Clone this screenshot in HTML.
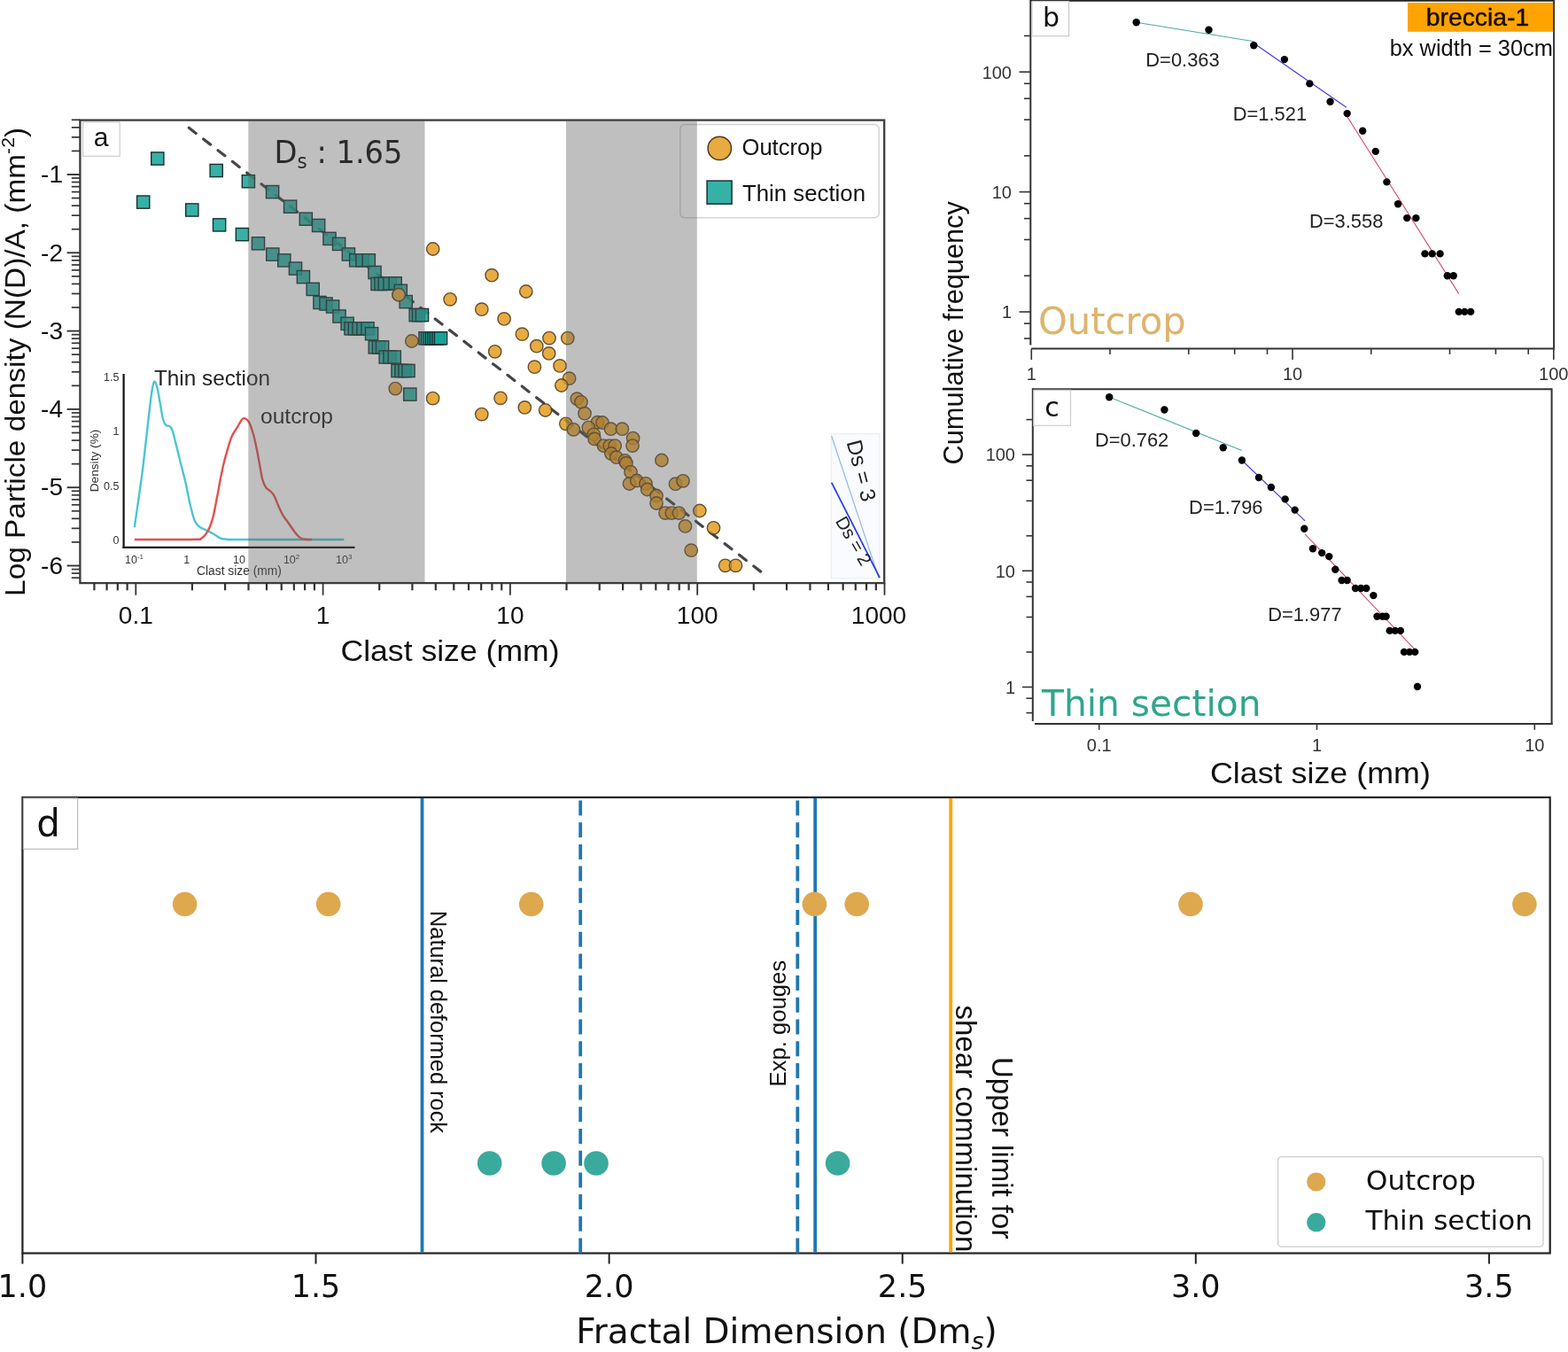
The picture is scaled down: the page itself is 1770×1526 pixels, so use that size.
<!DOCTYPE html>
<html><head><meta charset="utf-8"><title>Fractal dimension figure</title>
<style>html,body{margin:0;padding:0;background:#fff;} svg{display:block;}</style></head>
<body>
<svg width="1770" height="1526" viewBox="0 0 1770 1526">
<rect width="1770" height="1526" fill="#fff"/>
<g font-family="'Liberation Sans', Arial, sans-serif">
<line x1="139.6" y1="422" x2="139.6" y2="619" stroke="#111" stroke-width="2.2"/>
<line x1="138.5" y1="617.9" x2="400.5" y2="617.9" stroke="#111" stroke-width="2.2"/>
<text x="134.5" y="429.55" font-size="12.5" text-anchor="end" fill="#333">1.5</text>
<text x="134.5" y="491.1" font-size="12.5" text-anchor="end" fill="#333">1</text>
<text x="134.5" y="552.65" font-size="12.5" text-anchor="end" fill="#333">0.5</text>
<text x="134.5" y="614.2" font-size="12.5" text-anchor="end" fill="#333">0</text>
<text x="151.5" y="635.5" font-size="12.5" text-anchor="middle" fill="#333">10<tspan font-size="8" dy="-5">-1</tspan></text>
<text x="210.7" y="635.5" font-size="12.5" text-anchor="middle" fill="#333">1</text>
<text x="269.9" y="635.5" font-size="12.5" text-anchor="middle" fill="#333">10</text>
<text x="329.1" y="635.5" font-size="12.5" text-anchor="middle" fill="#333">10<tspan font-size="8" dy="-5">2</tspan></text>
<text x="388.3" y="635.5" font-size="12.5" text-anchor="middle" fill="#333">10<tspan font-size="8" dy="-5">3</tspan></text>
<text x="270" y="648.5" font-size="13.8" text-anchor="middle" fill="#333">Clast size (mm)</text>
<text transform="translate(110.5,520) rotate(-90)" font-size="13.7" text-anchor="middle" fill="#333">Density (%)</text>
<path d="M151.8,595.2 C152.67,589.2 155.47,570.02 157,559.2 C158.53,548.38 159.68,540.78 161,530.3 C162.32,519.82 163.7,506.78 164.9,496.3 C166.1,485.82 167.1,476.58 168.2,467.4 C169.3,458.22 170.52,447.32 171.5,441.2 C172.48,435.08 173.12,431.35 174.1,430.7 C175.08,430.05 176.32,433.37 177.4,437.3 C178.48,441.23 179.52,448.4 180.6,454.3 C181.68,460.2 182.8,468.43 183.9,472.7 C185,476.97 185.88,478.48 187.2,479.9 C188.52,481.32 190.5,480 191.8,481.2 C193.1,482.4 193.8,483.5 195,487.1 C196.2,490.7 197.47,496.68 199,502.8 C200.53,508.92 202.45,516.82 204.2,523.8 C205.95,530.78 207.75,537.05 209.5,544.7 C211.25,552.35 212.97,562.48 214.7,569.7 C216.43,576.92 218.15,583.85 219.9,588 C221.65,592.15 223.13,592.9 225.2,594.6 C227.27,596.3 229.77,596.93 232.3,598.2 C234.83,599.47 237.7,600.68 240.4,602.2 C243.1,603.72 245.62,606.18 248.5,607.3 C251.38,608.42 254.12,608.62 257.7,608.9 C261.28,609.18 248.23,608.98 270,609 C291.77,609.02 368.58,609 388.3,609" fill="none" stroke="#4cc4d2" stroke-width="2.4" stroke-linejoin="round"/>
<path d="M151.8,609 C159.83,609 187.97,609.03 200,609 C212.03,608.97 219.63,608.92 224,608.8 C228.37,608.68 224.98,609.05 226.2,608.3 C227.42,607.55 229.62,606.33 231.3,604.3 C232.98,602.27 234.78,599.48 236.3,596.1 C237.82,592.72 239.22,588.4 240.4,584 C241.58,579.6 242.38,574.78 243.4,569.7 C244.42,564.62 245.48,558.92 246.5,553.5 C247.52,548.08 248.48,542.28 249.5,537.2 C250.52,532.12 251.4,527.9 252.6,523 C253.8,518.1 255.18,512.88 256.7,507.8 C258.22,502.72 259.85,496.73 261.7,492.5 C263.55,488.27 265.93,485.53 267.8,482.4 C269.67,479.27 271.53,475.4 272.9,473.7 C274.27,472 274.65,471.77 276,472.2 C277.35,472.63 279.32,473.25 281,476.3 C282.68,479.35 284.57,485.08 286.1,490.5 C287.63,495.92 289.02,503.05 290.2,508.8 C291.38,514.55 292.18,519.58 293.2,525 C294.22,530.42 295.12,537.07 296.3,541.3 C297.48,545.53 298.78,548.2 300.3,550.4 C301.82,552.6 303.87,552.97 305.4,554.5 C306.93,556.03 307.97,556.72 309.5,559.6 C311.03,562.48 312.92,568.08 314.6,571.8 C316.28,575.52 317.92,579.03 319.6,581.9 C321.28,584.77 322.67,586.12 324.7,589 C326.73,591.88 329.77,596.48 331.8,599.2 C333.83,601.92 335.2,603.78 336.9,605.3 C338.6,606.82 340.15,607.68 342,608.3 C343.85,608.92 346.33,608.88 348,609 C349.67,609.12 351.33,609 352,609" fill="none" stroke="#e5504c" stroke-width="2.4" stroke-linejoin="round"/>
<text x="174" y="434.5" font-size="24.3" fill="#222">Thin section</text>
<text x="294" y="477.5" font-size="24.6" fill="#222">outcrop</text>
<rect x="93.6" y="137.9" width="41.6" height="38.4" fill="#fff" stroke="#ccc" stroke-width="1.2"/><text x="114" y="165" font-size="30" text-anchor="middle" fill="#111">a</text>
<rect x="767.8" y="140.5" width="224.5" height="105.3" rx="5" fill="#fff" fill-opacity="0.85" stroke="#d4d4d4" stroke-width="1.5"/>
<circle cx="812.3" cy="167.4" r="13.2" fill="#e8ab41" stroke="#4a3a20" stroke-width="1.5"/>
<rect x="798.1" y="204.1" width="28" height="26.1" fill="#36b1a6" stroke="#18302d" stroke-width="1.5"/>
<text x="837.5" y="175.2" font-size="25" fill="#111" textLength="91" lengthAdjust="spacingAndGlyphs">Outcrop</text>
<text x="838" y="227.4" font-size="25" fill="#111" textLength="139" lengthAdjust="spacingAndGlyphs">Thin section</text>
<line x1="213.3" y1="144.3" x2="858.9" y2="645.3" stroke="#45454a" stroke-width="3.2" stroke-linecap="round" stroke-dasharray="10 10.69"/>
<circle cx="488.7" cy="281" r="7.2" fill="#e29612" fill-opacity="0.8" stroke="#4a3a20" stroke-width="1.4" stroke-opacity="0.85"/>
<circle cx="555.1" cy="310.7" r="7.2" fill="#e29612" fill-opacity="0.8" stroke="#4a3a20" stroke-width="1.4" stroke-opacity="0.85"/>
<circle cx="593.8" cy="329" r="7.2" fill="#e29612" fill-opacity="0.8" stroke="#4a3a20" stroke-width="1.4" stroke-opacity="0.85"/>
<circle cx="508.1" cy="337.8" r="7.2" fill="#e29612" fill-opacity="0.8" stroke="#4a3a20" stroke-width="1.4" stroke-opacity="0.85"/>
<circle cx="543.8" cy="349.2" r="7.2" fill="#e29612" fill-opacity="0.8" stroke="#4a3a20" stroke-width="1.4" stroke-opacity="0.85"/>
<circle cx="569.1" cy="359.9" r="7.2" fill="#e29612" fill-opacity="0.8" stroke="#4a3a20" stroke-width="1.4" stroke-opacity="0.85"/>
<circle cx="589.4" cy="377.2" r="7.2" fill="#e29612" fill-opacity="0.8" stroke="#4a3a20" stroke-width="1.4" stroke-opacity="0.85"/>
<circle cx="620" cy="381.6" r="7.2" fill="#e29612" fill-opacity="0.8" stroke="#4a3a20" stroke-width="1.4" stroke-opacity="0.85"/>
<circle cx="640.8" cy="381.6" r="7.2" fill="#e29612" fill-opacity="0.8" stroke="#4a3a20" stroke-width="1.4" stroke-opacity="0.85"/>
<circle cx="605.8" cy="390.7" r="7.2" fill="#e29612" fill-opacity="0.8" stroke="#4a3a20" stroke-width="1.4" stroke-opacity="0.85"/>
<circle cx="619.7" cy="398.9" r="7.2" fill="#e29612" fill-opacity="0.8" stroke="#4a3a20" stroke-width="1.4" stroke-opacity="0.85"/>
<circle cx="558.7" cy="396.8" r="7.2" fill="#e29612" fill-opacity="0.8" stroke="#4a3a20" stroke-width="1.4" stroke-opacity="0.85"/>
<circle cx="603.4" cy="414.2" r="7.2" fill="#e29612" fill-opacity="0.8" stroke="#4a3a20" stroke-width="1.4" stroke-opacity="0.85"/>
<circle cx="632" cy="412.9" r="7.2" fill="#e29612" fill-opacity="0.8" stroke="#4a3a20" stroke-width="1.4" stroke-opacity="0.85"/>
<circle cx="642.6" cy="427.2" r="7.2" fill="#e29612" fill-opacity="0.8" stroke="#4a3a20" stroke-width="1.4" stroke-opacity="0.85"/>
<circle cx="633.8" cy="435" r="7.2" fill="#e29612" fill-opacity="0.8" stroke="#4a3a20" stroke-width="1.4" stroke-opacity="0.85"/>
<circle cx="450.1" cy="332.7" r="7.2" fill="#e29612" fill-opacity="0.8" stroke="#4a3a20" stroke-width="1.4" stroke-opacity="0.85"/>
<circle cx="464.8" cy="385" r="7.2" fill="#e29612" fill-opacity="0.8" stroke="#4a3a20" stroke-width="1.4" stroke-opacity="0.85"/>
<circle cx="446.3" cy="438.6" r="7.2" fill="#e29612" fill-opacity="0.8" stroke="#4a3a20" stroke-width="1.4" stroke-opacity="0.85"/>
<circle cx="488.6" cy="449.6" r="7.2" fill="#e29612" fill-opacity="0.8" stroke="#4a3a20" stroke-width="1.4" stroke-opacity="0.85"/>
<circle cx="565" cy="449.3" r="7.2" fill="#e29612" fill-opacity="0.8" stroke="#4a3a20" stroke-width="1.4" stroke-opacity="0.85"/>
<circle cx="592.3" cy="459.9" r="7.2" fill="#e29612" fill-opacity="0.8" stroke="#4a3a20" stroke-width="1.4" stroke-opacity="0.85"/>
<circle cx="615.6" cy="463" r="7.2" fill="#e29612" fill-opacity="0.8" stroke="#4a3a20" stroke-width="1.4" stroke-opacity="0.85"/>
<circle cx="543.8" cy="467.6" r="7.2" fill="#e29612" fill-opacity="0.8" stroke="#4a3a20" stroke-width="1.4" stroke-opacity="0.85"/>
<circle cx="651.3" cy="450.2" r="7.2" fill="#e29612" fill-opacity="0.8" stroke="#4a3a20" stroke-width="1.4" stroke-opacity="0.85"/>
<circle cx="656" cy="453.8" r="7.2" fill="#e29612" fill-opacity="0.8" stroke="#4a3a20" stroke-width="1.4" stroke-opacity="0.85"/>
<circle cx="660" cy="466.7" r="7.2" fill="#e29612" fill-opacity="0.8" stroke="#4a3a20" stroke-width="1.4" stroke-opacity="0.85"/>
<circle cx="638.8" cy="478.3" r="7.2" fill="#e29612" fill-opacity="0.8" stroke="#4a3a20" stroke-width="1.4" stroke-opacity="0.85"/>
<circle cx="647.4" cy="484.8" r="7.2" fill="#e29612" fill-opacity="0.8" stroke="#4a3a20" stroke-width="1.4" stroke-opacity="0.85"/>
<circle cx="674.5" cy="476.7" r="7.2" fill="#e29612" fill-opacity="0.8" stroke="#4a3a20" stroke-width="1.4" stroke-opacity="0.85"/>
<circle cx="664.3" cy="482.6" r="7.2" fill="#e29612" fill-opacity="0.8" stroke="#4a3a20" stroke-width="1.4" stroke-opacity="0.85"/>
<circle cx="670.3" cy="490.3" r="7.2" fill="#e29612" fill-opacity="0.8" stroke="#4a3a20" stroke-width="1.4" stroke-opacity="0.85"/>
<circle cx="671.1" cy="495.4" r="7.2" fill="#e29612" fill-opacity="0.8" stroke="#4a3a20" stroke-width="1.4" stroke-opacity="0.85"/>
<circle cx="680" cy="477" r="7.2" fill="#e29612" fill-opacity="0.8" stroke="#4a3a20" stroke-width="1.4" stroke-opacity="0.85"/>
<circle cx="689.5" cy="484.2" r="7.2" fill="#e29612" fill-opacity="0.8" stroke="#4a3a20" stroke-width="1.4" stroke-opacity="0.85"/>
<circle cx="702.4" cy="484.2" r="7.2" fill="#e29612" fill-opacity="0.8" stroke="#4a3a20" stroke-width="1.4" stroke-opacity="0.85"/>
<circle cx="714.6" cy="494.6" r="7.2" fill="#e29612" fill-opacity="0.8" stroke="#4a3a20" stroke-width="1.4" stroke-opacity="0.85"/>
<circle cx="714" cy="503.1" r="7.2" fill="#e29612" fill-opacity="0.8" stroke="#4a3a20" stroke-width="1.4" stroke-opacity="0.85"/>
<circle cx="681.5" cy="503.1" r="7.2" fill="#e29612" fill-opacity="0.8" stroke="#4a3a20" stroke-width="1.4" stroke-opacity="0.85"/>
<circle cx="688.2" cy="503.1" r="7.2" fill="#e29612" fill-opacity="0.8" stroke="#4a3a20" stroke-width="1.4" stroke-opacity="0.85"/>
<circle cx="694.2" cy="503.1" r="7.2" fill="#e29612" fill-opacity="0.8" stroke="#4a3a20" stroke-width="1.4" stroke-opacity="0.85"/>
<circle cx="689.9" cy="512" r="7.2" fill="#e29612" fill-opacity="0.8" stroke="#4a3a20" stroke-width="1.4" stroke-opacity="0.85"/>
<circle cx="695.8" cy="516.2" r="7.2" fill="#e29612" fill-opacity="0.8" stroke="#4a3a20" stroke-width="1.4" stroke-opacity="0.85"/>
<circle cx="705.4" cy="519.8" r="7.2" fill="#e29612" fill-opacity="0.8" stroke="#4a3a20" stroke-width="1.4" stroke-opacity="0.85"/>
<circle cx="706.9" cy="522.7" r="7.2" fill="#e29612" fill-opacity="0.8" stroke="#4a3a20" stroke-width="1.4" stroke-opacity="0.85"/>
<circle cx="712" cy="532.8" r="7.2" fill="#e29612" fill-opacity="0.8" stroke="#4a3a20" stroke-width="1.4" stroke-opacity="0.85"/>
<circle cx="710.5" cy="546" r="7.2" fill="#e29612" fill-opacity="0.8" stroke="#4a3a20" stroke-width="1.4" stroke-opacity="0.85"/>
<circle cx="718.8" cy="542.5" r="7.2" fill="#e29612" fill-opacity="0.8" stroke="#4a3a20" stroke-width="1.4" stroke-opacity="0.85"/>
<circle cx="729" cy="545.8" r="7.2" fill="#e29612" fill-opacity="0.8" stroke="#4a3a20" stroke-width="1.4" stroke-opacity="0.85"/>
<circle cx="730.7" cy="552.5" r="7.2" fill="#e29612" fill-opacity="0.8" stroke="#4a3a20" stroke-width="1.4" stroke-opacity="0.85"/>
<circle cx="741" cy="559.5" r="7.2" fill="#e29612" fill-opacity="0.8" stroke="#4a3a20" stroke-width="1.4" stroke-opacity="0.85"/>
<circle cx="741" cy="568" r="7.2" fill="#e29612" fill-opacity="0.8" stroke="#4a3a20" stroke-width="1.4" stroke-opacity="0.85"/>
<circle cx="746.9" cy="519.5" r="7.2" fill="#e29612" fill-opacity="0.8" stroke="#4a3a20" stroke-width="1.4" stroke-opacity="0.85"/>
<circle cx="762.5" cy="546.2" r="7.2" fill="#e29612" fill-opacity="0.8" stroke="#4a3a20" stroke-width="1.4" stroke-opacity="0.85"/>
<circle cx="771" cy="542.8" r="7.2" fill="#e29612" fill-opacity="0.8" stroke="#4a3a20" stroke-width="1.4" stroke-opacity="0.85"/>
<circle cx="751" cy="579.1" r="7.2" fill="#e29612" fill-opacity="0.8" stroke="#4a3a20" stroke-width="1.4" stroke-opacity="0.85"/>
<circle cx="758.3" cy="579.1" r="7.2" fill="#e29612" fill-opacity="0.8" stroke="#4a3a20" stroke-width="1.4" stroke-opacity="0.85"/>
<circle cx="766.5" cy="579.1" r="7.2" fill="#e29612" fill-opacity="0.8" stroke="#4a3a20" stroke-width="1.4" stroke-opacity="0.85"/>
<circle cx="773.5" cy="593.9" r="7.2" fill="#e29612" fill-opacity="0.8" stroke="#4a3a20" stroke-width="1.4" stroke-opacity="0.85"/>
<circle cx="780.2" cy="621.2" r="7.2" fill="#e29612" fill-opacity="0.8" stroke="#4a3a20" stroke-width="1.4" stroke-opacity="0.85"/>
<circle cx="789.8" cy="576.5" r="7.2" fill="#e29612" fill-opacity="0.8" stroke="#4a3a20" stroke-width="1.4" stroke-opacity="0.85"/>
<circle cx="805.5" cy="595.8" r="7.2" fill="#e29612" fill-opacity="0.8" stroke="#4a3a20" stroke-width="1.4" stroke-opacity="0.85"/>
<circle cx="818.7" cy="638.3" r="7.2" fill="#e29612" fill-opacity="0.8" stroke="#4a3a20" stroke-width="1.4" stroke-opacity="0.85"/>
<circle cx="830.5" cy="638.3" r="7.2" fill="#e29612" fill-opacity="0.8" stroke="#4a3a20" stroke-width="1.4" stroke-opacity="0.85"/>
<rect x="154.6" y="221" width="14.2" height="14.2" fill="#16a497" fill-opacity="0.86" stroke="#18302d" stroke-width="1.4"/>
<rect x="209.7" y="229.9" width="14.2" height="14.2" fill="#16a497" fill-opacity="0.86" stroke="#18302d" stroke-width="1.4"/>
<rect x="240.5" y="246.8" width="14.2" height="14.2" fill="#16a497" fill-opacity="0.86" stroke="#18302d" stroke-width="1.4"/>
<rect x="266.3" y="257.5" width="14.2" height="14.2" fill="#16a497" fill-opacity="0.86" stroke="#18302d" stroke-width="1.4"/>
<rect x="284.4" y="267.7" width="14.2" height="14.2" fill="#16a497" fill-opacity="0.86" stroke="#18302d" stroke-width="1.4"/>
<rect x="300.7" y="280" width="14.2" height="14.2" fill="#16a497" fill-opacity="0.86" stroke="#18302d" stroke-width="1.4"/>
<rect x="313.7" y="286.8" width="14.2" height="14.2" fill="#16a497" fill-opacity="0.86" stroke="#18302d" stroke-width="1.4"/>
<rect x="326.4" y="296" width="14.2" height="14.2" fill="#16a497" fill-opacity="0.86" stroke="#18302d" stroke-width="1.4"/>
<rect x="335.3" y="305.5" width="14.2" height="14.2" fill="#16a497" fill-opacity="0.86" stroke="#18302d" stroke-width="1.4"/>
<rect x="346.1" y="319.3" width="14.2" height="14.2" fill="#16a497" fill-opacity="0.86" stroke="#18302d" stroke-width="1.4"/>
<rect x="353.9" y="334.4" width="14.2" height="14.2" fill="#16a497" fill-opacity="0.86" stroke="#18302d" stroke-width="1.4"/>
<rect x="360.9" y="335.9" width="14.2" height="14.2" fill="#16a497" fill-opacity="0.86" stroke="#18302d" stroke-width="1.4"/>
<rect x="368.5" y="338.9" width="14.2" height="14.2" fill="#16a497" fill-opacity="0.86" stroke="#18302d" stroke-width="1.4"/>
<rect x="375.9" y="349.9" width="14.2" height="14.2" fill="#16a497" fill-opacity="0.86" stroke="#18302d" stroke-width="1.4"/>
<rect x="385" y="358.2" width="14.2" height="14.2" fill="#16a497" fill-opacity="0.86" stroke="#18302d" stroke-width="1.4"/>
<rect x="388.9" y="363.7" width="14.2" height="14.2" fill="#16a497" fill-opacity="0.86" stroke="#18302d" stroke-width="1.4"/>
<rect x="393.3" y="363.7" width="14.2" height="14.2" fill="#16a497" fill-opacity="0.86" stroke="#18302d" stroke-width="1.4"/>
<rect x="397.9" y="363.7" width="14.2" height="14.2" fill="#16a497" fill-opacity="0.86" stroke="#18302d" stroke-width="1.4"/>
<rect x="402.9" y="363.7" width="14.2" height="14.2" fill="#16a497" fill-opacity="0.86" stroke="#18302d" stroke-width="1.4"/>
<rect x="407.9" y="363.7" width="14.2" height="14.2" fill="#16a497" fill-opacity="0.86" stroke="#18302d" stroke-width="1.4"/>
<rect x="412.5" y="369.6" width="14.2" height="14.2" fill="#16a497" fill-opacity="0.86" stroke="#18302d" stroke-width="1.4"/>
<rect x="416.2" y="384.8" width="14.2" height="14.2" fill="#16a497" fill-opacity="0.86" stroke="#18302d" stroke-width="1.4"/>
<rect x="420.4" y="384.8" width="14.2" height="14.2" fill="#16a497" fill-opacity="0.86" stroke="#18302d" stroke-width="1.4"/>
<rect x="424.5" y="384.8" width="14.2" height="14.2" fill="#16a497" fill-opacity="0.86" stroke="#18302d" stroke-width="1.4"/>
<rect x="428.1" y="395.9" width="14.2" height="14.2" fill="#16a497" fill-opacity="0.86" stroke="#18302d" stroke-width="1.4"/>
<rect x="432.9" y="395.9" width="14.2" height="14.2" fill="#16a497" fill-opacity="0.86" stroke="#18302d" stroke-width="1.4"/>
<rect x="438.2" y="395.9" width="14.2" height="14.2" fill="#16a497" fill-opacity="0.86" stroke="#18302d" stroke-width="1.4"/>
<rect x="441.9" y="411.4" width="14.2" height="14.2" fill="#16a497" fill-opacity="0.86" stroke="#18302d" stroke-width="1.4"/>
<rect x="445.9" y="411.4" width="14.2" height="14.2" fill="#16a497" fill-opacity="0.86" stroke="#18302d" stroke-width="1.4"/>
<rect x="449.9" y="411.4" width="14.2" height="14.2" fill="#16a497" fill-opacity="0.86" stroke="#18302d" stroke-width="1.4"/>
<rect x="453.9" y="411.4" width="14.2" height="14.2" fill="#16a497" fill-opacity="0.86" stroke="#18302d" stroke-width="1.4"/>
<rect x="455.7" y="438" width="14.2" height="14.2" fill="#16a497" fill-opacity="0.86" stroke="#18302d" stroke-width="1.4"/>
<rect x="170.7" y="171.9" width="14.2" height="14.2" fill="#16a497" fill-opacity="0.86" stroke="#18302d" stroke-width="1.4"/>
<rect x="237.1" y="185.4" width="14.2" height="14.2" fill="#16a497" fill-opacity="0.86" stroke="#18302d" stroke-width="1.4"/>
<rect x="273.3" y="197.6" width="14.2" height="14.2" fill="#16a497" fill-opacity="0.86" stroke="#18302d" stroke-width="1.4"/>
<rect x="300.5" y="209.5" width="14.2" height="14.2" fill="#16a497" fill-opacity="0.86" stroke="#18302d" stroke-width="1.4"/>
<rect x="320.5" y="226.1" width="14.2" height="14.2" fill="#16a497" fill-opacity="0.86" stroke="#18302d" stroke-width="1.4"/>
<rect x="338.2" y="240.1" width="14.2" height="14.2" fill="#16a497" fill-opacity="0.86" stroke="#18302d" stroke-width="1.4"/>
<rect x="352.5" y="247.4" width="14.2" height="14.2" fill="#16a497" fill-opacity="0.86" stroke="#18302d" stroke-width="1.4"/>
<rect x="364.9" y="262.3" width="14.2" height="14.2" fill="#16a497" fill-opacity="0.86" stroke="#18302d" stroke-width="1.4"/>
<rect x="375.5" y="268.3" width="14.2" height="14.2" fill="#16a497" fill-opacity="0.86" stroke="#18302d" stroke-width="1.4"/>
<rect x="386.3" y="279.9" width="14.2" height="14.2" fill="#16a497" fill-opacity="0.86" stroke="#18302d" stroke-width="1.4"/>
<rect x="394.6" y="286.7" width="14.2" height="14.2" fill="#16a497" fill-opacity="0.86" stroke="#18302d" stroke-width="1.4"/>
<rect x="401.9" y="286.7" width="14.2" height="14.2" fill="#16a497" fill-opacity="0.86" stroke="#18302d" stroke-width="1.4"/>
<rect x="409.2" y="286.7" width="14.2" height="14.2" fill="#16a497" fill-opacity="0.86" stroke="#18302d" stroke-width="1.4"/>
<rect x="415.9" y="300.4" width="14.2" height="14.2" fill="#16a497" fill-opacity="0.86" stroke="#18302d" stroke-width="1.4"/>
<rect x="418.9" y="313.3" width="14.2" height="14.2" fill="#16a497" fill-opacity="0.86" stroke="#18302d" stroke-width="1.4"/>
<rect x="422.9" y="313.3" width="14.2" height="14.2" fill="#16a497" fill-opacity="0.86" stroke="#18302d" stroke-width="1.4"/>
<rect x="427.2" y="313.3" width="14.2" height="14.2" fill="#16a497" fill-opacity="0.86" stroke="#18302d" stroke-width="1.4"/>
<rect x="432.9" y="312.9" width="14.2" height="14.2" fill="#16a497" fill-opacity="0.86" stroke="#18302d" stroke-width="1.4"/>
<rect x="439.1" y="312.7" width="14.2" height="14.2" fill="#16a497" fill-opacity="0.86" stroke="#18302d" stroke-width="1.4"/>
<rect x="445.2" y="321.2" width="14.2" height="14.2" fill="#16a497" fill-opacity="0.86" stroke="#18302d" stroke-width="1.4"/>
<rect x="451.1" y="333.5" width="14.2" height="14.2" fill="#16a497" fill-opacity="0.86" stroke="#18302d" stroke-width="1.4"/>
<rect x="462.1" y="348.5" width="14.2" height="14.2" fill="#16a497" fill-opacity="0.86" stroke="#18302d" stroke-width="1.4"/>
<rect x="465.4" y="348.5" width="14.2" height="14.2" fill="#16a497" fill-opacity="0.86" stroke="#18302d" stroke-width="1.4"/>
<rect x="469.4" y="348.5" width="14.2" height="14.2" fill="#16a497" fill-opacity="0.86" stroke="#18302d" stroke-width="1.4"/>
<rect x="472.9" y="374.7" width="14.2" height="14.2" fill="#16a497" fill-opacity="0.86" stroke="#18302d" stroke-width="1.4"/>
<rect x="475.4" y="374.7" width="14.2" height="14.2" fill="#16a497" fill-opacity="0.86" stroke="#18302d" stroke-width="1.4"/>
<rect x="477.9" y="374.7" width="14.2" height="14.2" fill="#16a497" fill-opacity="0.86" stroke="#18302d" stroke-width="1.4"/>
<rect x="480.4" y="374.7" width="14.2" height="14.2" fill="#16a497" fill-opacity="0.86" stroke="#18302d" stroke-width="1.4"/>
<rect x="482.9" y="374.7" width="14.2" height="14.2" fill="#16a497" fill-opacity="0.86" stroke="#18302d" stroke-width="1.4"/>
<rect x="485.4" y="374.7" width="14.2" height="14.2" fill="#16a497" fill-opacity="0.86" stroke="#18302d" stroke-width="1.4"/>
<rect x="487.9" y="374.7" width="14.2" height="14.2" fill="#16a497" fill-opacity="0.86" stroke="#18302d" stroke-width="1.4"/>
<rect x="490.4" y="374.7" width="14.2" height="14.2" fill="#16a497" fill-opacity="0.86" stroke="#18302d" stroke-width="1.4"/>
<circle cx="450.1" cy="332.7" r="7.2" fill="#e8ab41" stroke="#4a3a20" stroke-width="1.4" stroke-opacity="0.9"/>
<rect x="280.3" y="136.6" width="199.2" height="520.5" fill="#5e5e5e" fill-opacity="0.4"/>
<rect x="639" y="136.6" width="147.8" height="520.5" fill="#5e5e5e" fill-opacity="0.4"/>
<text x="309.5" y="184.3" font-size="36" fill="#2a2a2a" font-family="'DejaVu Sans', 'Liberation Sans', sans-serif" textLength="145" lengthAdjust="spacingAndGlyphs">D<tspan font-size="23" dy="6">s</tspan><tspan dy="-6"> : 1.65</tspan></text>
<rect x="938.3" y="489.7" width="54.8" height="163.2" fill="#f9fbff" stroke="#e2eaf7" stroke-width="1"/>
<line x1="938.7" y1="492.3" x2="991.8" y2="651.6" stroke="#8eb4f0" stroke-width="1.2"/>
<line x1="938.7" y1="544.7" x2="993.1" y2="652.2" stroke="#2e3ee6" stroke-width="1.8"/>
<text transform="translate(955.5,499) rotate(75.5)" font-size="24.3" fill="#222">Ds = 3</text>
<text transform="translate(942.5,588) rotate(60)" font-size="20.5" fill="#222">Ds = 2</text>
<rect x="90.4" y="135.6" width="907.8" height="522.5" fill="none" stroke="#3c3c3c" stroke-width="2.3"/>
<line x1="80.8" y1="652.18" x2="90.4" y2="652.18" stroke="#333" stroke-width="1.7"/>
<line x1="80.8" y1="647.06" x2="90.4" y2="647.06" stroke="#333" stroke-width="1.7"/>
<line x1="80.8" y1="642.54" x2="90.4" y2="642.54" stroke="#333" stroke-width="1.7"/>
<line x1="75.6" y1="638.5" x2="90.4" y2="638.5" stroke="#333" stroke-width="1.9"/>
<line x1="80.8" y1="611.92" x2="90.4" y2="611.92" stroke="#333" stroke-width="1.7"/>
<line x1="80.8" y1="596.37" x2="90.4" y2="596.37" stroke="#333" stroke-width="1.7"/>
<line x1="80.8" y1="585.34" x2="90.4" y2="585.34" stroke="#333" stroke-width="1.7"/>
<line x1="80.8" y1="576.78" x2="90.4" y2="576.78" stroke="#333" stroke-width="1.7"/>
<line x1="80.8" y1="569.79" x2="90.4" y2="569.79" stroke="#333" stroke-width="1.7"/>
<line x1="80.8" y1="563.88" x2="90.4" y2="563.88" stroke="#333" stroke-width="1.7"/>
<line x1="80.8" y1="558.76" x2="90.4" y2="558.76" stroke="#333" stroke-width="1.7"/>
<line x1="80.8" y1="554.24" x2="90.4" y2="554.24" stroke="#333" stroke-width="1.7"/>
<line x1="75.6" y1="550.2" x2="90.4" y2="550.2" stroke="#333" stroke-width="1.9"/>
<line x1="80.8" y1="523.62" x2="90.4" y2="523.62" stroke="#333" stroke-width="1.7"/>
<line x1="80.8" y1="508.07" x2="90.4" y2="508.07" stroke="#333" stroke-width="1.7"/>
<line x1="80.8" y1="497.04" x2="90.4" y2="497.04" stroke="#333" stroke-width="1.7"/>
<line x1="80.8" y1="488.48" x2="90.4" y2="488.48" stroke="#333" stroke-width="1.7"/>
<line x1="80.8" y1="481.49" x2="90.4" y2="481.49" stroke="#333" stroke-width="1.7"/>
<line x1="80.8" y1="475.58" x2="90.4" y2="475.58" stroke="#333" stroke-width="1.7"/>
<line x1="80.8" y1="470.46" x2="90.4" y2="470.46" stroke="#333" stroke-width="1.7"/>
<line x1="80.8" y1="465.94" x2="90.4" y2="465.94" stroke="#333" stroke-width="1.7"/>
<line x1="75.6" y1="461.9" x2="90.4" y2="461.9" stroke="#333" stroke-width="1.9"/>
<line x1="80.8" y1="435.32" x2="90.4" y2="435.32" stroke="#333" stroke-width="1.7"/>
<line x1="80.8" y1="419.77" x2="90.4" y2="419.77" stroke="#333" stroke-width="1.7"/>
<line x1="80.8" y1="408.74" x2="90.4" y2="408.74" stroke="#333" stroke-width="1.7"/>
<line x1="80.8" y1="400.18" x2="90.4" y2="400.18" stroke="#333" stroke-width="1.7"/>
<line x1="80.8" y1="393.19" x2="90.4" y2="393.19" stroke="#333" stroke-width="1.7"/>
<line x1="80.8" y1="387.28" x2="90.4" y2="387.28" stroke="#333" stroke-width="1.7"/>
<line x1="80.8" y1="382.16" x2="90.4" y2="382.16" stroke="#333" stroke-width="1.7"/>
<line x1="80.8" y1="377.64" x2="90.4" y2="377.64" stroke="#333" stroke-width="1.7"/>
<line x1="75.6" y1="373.6" x2="90.4" y2="373.6" stroke="#333" stroke-width="1.9"/>
<line x1="80.8" y1="347.02" x2="90.4" y2="347.02" stroke="#333" stroke-width="1.7"/>
<line x1="80.8" y1="331.47" x2="90.4" y2="331.47" stroke="#333" stroke-width="1.7"/>
<line x1="80.8" y1="320.44" x2="90.4" y2="320.44" stroke="#333" stroke-width="1.7"/>
<line x1="80.8" y1="311.88" x2="90.4" y2="311.88" stroke="#333" stroke-width="1.7"/>
<line x1="80.8" y1="304.89" x2="90.4" y2="304.89" stroke="#333" stroke-width="1.7"/>
<line x1="80.8" y1="298.98" x2="90.4" y2="298.98" stroke="#333" stroke-width="1.7"/>
<line x1="80.8" y1="293.86" x2="90.4" y2="293.86" stroke="#333" stroke-width="1.7"/>
<line x1="80.8" y1="289.34" x2="90.4" y2="289.34" stroke="#333" stroke-width="1.7"/>
<line x1="75.6" y1="285.3" x2="90.4" y2="285.3" stroke="#333" stroke-width="1.9"/>
<line x1="80.8" y1="258.72" x2="90.4" y2="258.72" stroke="#333" stroke-width="1.7"/>
<line x1="80.8" y1="243.17" x2="90.4" y2="243.17" stroke="#333" stroke-width="1.7"/>
<line x1="80.8" y1="232.14" x2="90.4" y2="232.14" stroke="#333" stroke-width="1.7"/>
<line x1="80.8" y1="223.58" x2="90.4" y2="223.58" stroke="#333" stroke-width="1.7"/>
<line x1="80.8" y1="216.59" x2="90.4" y2="216.59" stroke="#333" stroke-width="1.7"/>
<line x1="80.8" y1="210.68" x2="90.4" y2="210.68" stroke="#333" stroke-width="1.7"/>
<line x1="80.8" y1="205.56" x2="90.4" y2="205.56" stroke="#333" stroke-width="1.7"/>
<line x1="80.8" y1="201.04" x2="90.4" y2="201.04" stroke="#333" stroke-width="1.7"/>
<line x1="75.6" y1="197" x2="90.4" y2="197" stroke="#333" stroke-width="1.9"/>
<line x1="80.8" y1="170.42" x2="90.4" y2="170.42" stroke="#333" stroke-width="1.7"/>
<line x1="80.8" y1="154.87" x2="90.4" y2="154.87" stroke="#333" stroke-width="1.7"/>
<line x1="80.8" y1="143.84" x2="90.4" y2="143.84" stroke="#333" stroke-width="1.7"/>
<line x1="80.8" y1="135.28" x2="90.4" y2="135.28" stroke="#333" stroke-width="1.7"/>
<text x="71" y="206.2" font-size="28" text-anchor="end" fill="#111">-1</text>
<text x="71" y="294.5" font-size="28" text-anchor="end" fill="#111">-2</text>
<text x="71" y="382.8" font-size="28" text-anchor="end" fill="#111">-3</text>
<text x="71" y="471.1" font-size="28" text-anchor="end" fill="#111">-4</text>
<text x="71" y="559.4" font-size="28" text-anchor="end" fill="#111">-5</text>
<text x="71" y="647.7" font-size="28" text-anchor="end" fill="#111">-6</text>
<line x1="106.42" y1="658.1" x2="106.42" y2="666.3" stroke="#333" stroke-width="2.2"/>
<line x1="120.57" y1="658.1" x2="120.57" y2="666.3" stroke="#333" stroke-width="2.2"/>
<line x1="132.82" y1="658.1" x2="132.82" y2="666.3" stroke="#333" stroke-width="2.2"/>
<line x1="143.63" y1="658.1" x2="143.63" y2="666.3" stroke="#333" stroke-width="2.2"/>
<line x1="153.3" y1="658.1" x2="153.3" y2="671.7" stroke="#333" stroke-width="1.8"/>
<line x1="216.91" y1="658.1" x2="216.91" y2="666.3" stroke="#333" stroke-width="2.2"/>
<line x1="254.12" y1="658.1" x2="254.12" y2="666.3" stroke="#333" stroke-width="2.2"/>
<line x1="280.52" y1="658.1" x2="280.52" y2="666.3" stroke="#333" stroke-width="2.2"/>
<line x1="300.99" y1="658.1" x2="300.99" y2="666.3" stroke="#333" stroke-width="2.2"/>
<line x1="317.72" y1="658.1" x2="317.72" y2="666.3" stroke="#333" stroke-width="2.2"/>
<line x1="331.87" y1="658.1" x2="331.87" y2="666.3" stroke="#333" stroke-width="2.2"/>
<line x1="344.12" y1="658.1" x2="344.12" y2="666.3" stroke="#333" stroke-width="2.2"/>
<line x1="354.93" y1="658.1" x2="354.93" y2="666.3" stroke="#333" stroke-width="2.2"/>
<line x1="364.6" y1="658.1" x2="364.6" y2="671.7" stroke="#333" stroke-width="1.8"/>
<line x1="428.21" y1="658.1" x2="428.21" y2="666.3" stroke="#333" stroke-width="2.2"/>
<line x1="465.42" y1="658.1" x2="465.42" y2="666.3" stroke="#333" stroke-width="2.2"/>
<line x1="491.82" y1="658.1" x2="491.82" y2="666.3" stroke="#333" stroke-width="2.2"/>
<line x1="512.29" y1="658.1" x2="512.29" y2="666.3" stroke="#333" stroke-width="2.2"/>
<line x1="529.02" y1="658.1" x2="529.02" y2="666.3" stroke="#333" stroke-width="2.2"/>
<line x1="543.17" y1="658.1" x2="543.17" y2="666.3" stroke="#333" stroke-width="2.2"/>
<line x1="555.42" y1="658.1" x2="555.42" y2="666.3" stroke="#333" stroke-width="2.2"/>
<line x1="566.23" y1="658.1" x2="566.23" y2="666.3" stroke="#333" stroke-width="2.2"/>
<line x1="575.9" y1="658.1" x2="575.9" y2="671.7" stroke="#333" stroke-width="1.8"/>
<line x1="639.51" y1="658.1" x2="639.51" y2="666.3" stroke="#333" stroke-width="2.2"/>
<line x1="676.72" y1="658.1" x2="676.72" y2="666.3" stroke="#333" stroke-width="2.2"/>
<line x1="703.12" y1="658.1" x2="703.12" y2="666.3" stroke="#333" stroke-width="2.2"/>
<line x1="723.59" y1="658.1" x2="723.59" y2="666.3" stroke="#333" stroke-width="2.2"/>
<line x1="740.32" y1="658.1" x2="740.32" y2="666.3" stroke="#333" stroke-width="2.2"/>
<line x1="754.47" y1="658.1" x2="754.47" y2="666.3" stroke="#333" stroke-width="2.2"/>
<line x1="766.72" y1="658.1" x2="766.72" y2="666.3" stroke="#333" stroke-width="2.2"/>
<line x1="777.53" y1="658.1" x2="777.53" y2="666.3" stroke="#333" stroke-width="2.2"/>
<line x1="787.2" y1="658.1" x2="787.2" y2="671.7" stroke="#333" stroke-width="1.8"/>
<line x1="850.81" y1="658.1" x2="850.81" y2="666.3" stroke="#333" stroke-width="2.2"/>
<line x1="888.02" y1="658.1" x2="888.02" y2="666.3" stroke="#333" stroke-width="2.2"/>
<line x1="914.42" y1="658.1" x2="914.42" y2="666.3" stroke="#333" stroke-width="2.2"/>
<line x1="934.89" y1="658.1" x2="934.89" y2="666.3" stroke="#333" stroke-width="2.2"/>
<line x1="951.62" y1="658.1" x2="951.62" y2="666.3" stroke="#333" stroke-width="2.2"/>
<line x1="965.77" y1="658.1" x2="965.77" y2="666.3" stroke="#333" stroke-width="2.2"/>
<line x1="978.02" y1="658.1" x2="978.02" y2="666.3" stroke="#333" stroke-width="2.2"/>
<line x1="988.83" y1="658.1" x2="988.83" y2="666.3" stroke="#333" stroke-width="2.2"/>
<line x1="998.5" y1="658.1" x2="998.5" y2="671.7" stroke="#333" stroke-width="1.8"/>
<text x="153.3" y="704" font-size="28" text-anchor="middle" fill="#111">0.1</text>
<text x="364.6" y="704" font-size="28" text-anchor="middle" fill="#111">1</text>
<text x="575.9" y="704" font-size="28" text-anchor="middle" fill="#111">10</text>
<text x="787.2" y="704" font-size="28" text-anchor="middle" fill="#111">100</text>
<text x="992" y="704" font-size="28" text-anchor="middle" fill="#111">1000</text>
<text x="508" y="746.3" font-size="33" text-anchor="middle" fill="#111" textLength="247" lengthAdjust="spacingAndGlyphs">Clast size (mm)</text>
<text transform="translate(28.4,408.4) rotate(-90)" font-size="31.5" text-anchor="middle" fill="#111" textLength="529" lengthAdjust="spacingAndGlyphs">Log Particle density (N(D)/A, (mm<tspan font-size="20" dy="-12">-2</tspan><tspan dy="12">)</tspan></text>
</g>
<g font-family="'Liberation Sans', Arial, sans-serif">
<line x1="1163.3" y1="0" x2="1163.3" y2="389.6" stroke="#333" stroke-width="2"/>
<line x1="1163.3" y1="0.6" x2="1754.1" y2="0.6" stroke="#222" stroke-width="2.2"/>
<line x1="1754.1" y1="0" x2="1754.1" y2="394.4" stroke="#333" stroke-width="2"/>
<line x1="1164.3" y1="393.5" x2="1755" y2="393.5" stroke="#333" stroke-width="2"/>
<line x1="1156" y1="382.04" x2="1163.3" y2="382.04" stroke="#333" stroke-width="1.6"/>
<line x1="1156" y1="365.12" x2="1163.3" y2="365.12" stroke="#333" stroke-width="1.6"/>
<line x1="1150.6" y1="352" x2="1163.3" y2="352" stroke="#333" stroke-width="1.6"/>
<line x1="1156" y1="311.24" x2="1163.3" y2="311.24" stroke="#333" stroke-width="1.6"/>
<line x1="1156" y1="270.48" x2="1163.3" y2="270.48" stroke="#333" stroke-width="1.6"/>
<line x1="1156" y1="246.64" x2="1163.3" y2="246.64" stroke="#333" stroke-width="1.6"/>
<line x1="1156" y1="229.72" x2="1163.3" y2="229.72" stroke="#333" stroke-width="1.6"/>
<line x1="1150.6" y1="216.6" x2="1163.3" y2="216.6" stroke="#333" stroke-width="1.6"/>
<line x1="1156" y1="175.84" x2="1163.3" y2="175.84" stroke="#333" stroke-width="1.6"/>
<line x1="1156" y1="135.08" x2="1163.3" y2="135.08" stroke="#333" stroke-width="1.6"/>
<line x1="1156" y1="111.24" x2="1163.3" y2="111.24" stroke="#333" stroke-width="1.6"/>
<line x1="1156" y1="94.32" x2="1163.3" y2="94.32" stroke="#333" stroke-width="1.6"/>
<line x1="1150.6" y1="81.2" x2="1163.3" y2="81.2" stroke="#333" stroke-width="1.6"/>
<line x1="1156" y1="40.44" x2="1163.3" y2="40.44" stroke="#333" stroke-width="1.6"/>
<text x="1142" y="88.5" font-size="20" text-anchor="end" fill="#333">100</text>
<text x="1142" y="223.9" font-size="20" text-anchor="end" fill="#333">10</text>
<text x="1142" y="359.3" font-size="20" text-anchor="end" fill="#333">1</text>
<line x1="1164.3" y1="393.5" x2="1164.3" y2="406.1" stroke="#333" stroke-width="1.6"/>
<line x1="1253.03" y1="393.5" x2="1253.03" y2="399.9" stroke="#333" stroke-width="1.6"/>
<line x1="1341.76" y1="393.5" x2="1341.76" y2="399.9" stroke="#333" stroke-width="1.6"/>
<line x1="1393.66" y1="393.5" x2="1393.66" y2="399.9" stroke="#333" stroke-width="1.6"/>
<line x1="1430.49" y1="393.5" x2="1430.49" y2="399.9" stroke="#333" stroke-width="1.6"/>
<line x1="1459.05" y1="393.5" x2="1459.05" y2="406.1" stroke="#333" stroke-width="1.6"/>
<line x1="1547.78" y1="393.5" x2="1547.78" y2="399.9" stroke="#333" stroke-width="1.6"/>
<line x1="1636.51" y1="393.5" x2="1636.51" y2="399.9" stroke="#333" stroke-width="1.6"/>
<line x1="1688.41" y1="393.5" x2="1688.41" y2="399.9" stroke="#333" stroke-width="1.6"/>
<line x1="1725.24" y1="393.5" x2="1725.24" y2="399.9" stroke="#333" stroke-width="1.6"/>
<line x1="1753.8" y1="393.5" x2="1753.8" y2="406.1" stroke="#333" stroke-width="1.6"/>
<text x="1164.3" y="429.2" font-size="20" text-anchor="middle" fill="#333">1</text>
<text x="1459.05" y="429.2" font-size="20" text-anchor="middle" fill="#333">10</text>
<text x="1753.8" y="429.2" font-size="20" text-anchor="middle" fill="#333">100</text>
<line x1="1282.7" y1="25.2" x2="1415.3" y2="46.8" stroke="#4aaaa2" stroke-width="1.1"/>
<line x1="1415.3" y1="48.8" x2="1519.9" y2="121.2" stroke="#3a3ae6" stroke-width="1.1"/>
<line x1="1519.9" y1="130.2" x2="1646.8" y2="331.6" stroke="#dc4868" stroke-width="1.1"/>
<circle cx="1282.7" cy="25.2" r="4.2" fill="#000"/>
<circle cx="1364.5" cy="33.8" r="4.2" fill="#000"/>
<circle cx="1415.3" cy="51.3" r="4.2" fill="#000"/>
<circle cx="1449.9" cy="67.1" r="4.2" fill="#000"/>
<circle cx="1478.4" cy="94.4" r="4.2" fill="#000"/>
<circle cx="1501.6" cy="114.7" r="4.2" fill="#000"/>
<circle cx="1520.7" cy="128.1" r="4.2" fill="#000"/>
<circle cx="1538.2" cy="147.7" r="4.2" fill="#000"/>
<circle cx="1552.8" cy="170.9" r="4.2" fill="#000"/>
<circle cx="1565.4" cy="205.4" r="4.2" fill="#000"/>
<circle cx="1578.1" cy="230.3" r="4.2" fill="#000"/>
<circle cx="1588.2" cy="246.1" r="4.2" fill="#000"/>
<circle cx="1598.4" cy="246.1" r="4.2" fill="#000"/>
<circle cx="1608.5" cy="286.4" r="4.2" fill="#000"/>
<circle cx="1616.7" cy="286.4" r="4.2" fill="#000"/>
<circle cx="1625.6" cy="286.4" r="4.2" fill="#000"/>
<circle cx="1633.8" cy="311.2" r="4.2" fill="#000"/>
<circle cx="1640.7" cy="311.2" r="4.2" fill="#000"/>
<circle cx="1646.8" cy="351.9" r="4.2" fill="#000"/>
<circle cx="1653.3" cy="351.9" r="4.2" fill="#000"/>
<circle cx="1660.2" cy="351.9" r="4.2" fill="#000"/>
<text x="1293.3" y="75.3" font-size="21.5" fill="#222" textLength="83.4" lengthAdjust="spacingAndGlyphs">D=0.363</text>
<text x="1391.7" y="135.5" font-size="21.5" fill="#222" textLength="83.4" lengthAdjust="spacingAndGlyphs">D=1.521</text>
<text x="1478" y="257.1" font-size="21.5" fill="#222" textLength="83.4" lengthAdjust="spacingAndGlyphs">D=3.558</text>
<rect x="1165" y="1.5" width="41.6" height="39.2" fill="#fff" stroke="#ccc" stroke-width="1.2"/>
<text x="1186.5" y="30" font-size="30" text-anchor="middle" fill="#111" font-family="'DejaVu Sans', 'Liberation Sans', sans-serif">b</text>
<rect x="1589" y="3" width="164" height="32.8" fill="#ffa300"/>
<text x="1668" y="28.8" font-size="27.5" text-anchor="middle" fill="#1a0d00" stroke="#1a0d00" stroke-width="0.45" textLength="116.5" lengthAdjust="spacingAndGlyphs">breccia-1</text>
<text x="1753" y="63" font-size="25" text-anchor="end" fill="#111" textLength="184.3" lengthAdjust="spacingAndGlyphs">bx width = 30cm</text>
<text x="1172" y="376.8" font-size="41.8" fill="#ddb46e" font-family="'DejaVu Sans', 'Liberation Sans', sans-serif" textLength="166.8" lengthAdjust="spacingAndGlyphs">Outcrop</text>
<text transform="translate(1086.6,375.8) rotate(-90)" font-size="31" text-anchor="middle" fill="#111" textLength="297.3" lengthAdjust="spacingAndGlyphs">Cumulative frequency</text>
</g>
<g font-family="'Liberation Sans', Arial, sans-serif">
<line x1="1165.8" y1="438.3" x2="1165.8" y2="814" stroke="#333" stroke-width="2"/>
<line x1="1165.8" y1="439.3" x2="1751.6" y2="439.3" stroke="#333" stroke-width="2"/>
<line x1="1751.6" y1="438.3" x2="1751.6" y2="818" stroke="#333" stroke-width="2"/>
<line x1="1168" y1="817.1" x2="1752.5" y2="817.1" stroke="#333" stroke-width="2"/>
<line x1="1158.5" y1="804.61" x2="1165.8" y2="804.61" stroke="#333" stroke-width="1.6"/>
<line x1="1158.5" y1="788.21" x2="1165.8" y2="788.21" stroke="#333" stroke-width="1.6"/>
<line x1="1153.9" y1="775.5" x2="1165.8" y2="775.5" stroke="#333" stroke-width="1.6"/>
<line x1="1158.5" y1="736" x2="1165.8" y2="736" stroke="#333" stroke-width="1.6"/>
<line x1="1158.5" y1="696.51" x2="1165.8" y2="696.51" stroke="#333" stroke-width="1.6"/>
<line x1="1158.5" y1="673.41" x2="1165.8" y2="673.41" stroke="#333" stroke-width="1.6"/>
<line x1="1158.5" y1="657.01" x2="1165.8" y2="657.01" stroke="#333" stroke-width="1.6"/>
<line x1="1153.9" y1="644.3" x2="1165.8" y2="644.3" stroke="#333" stroke-width="1.6"/>
<line x1="1158.5" y1="604.8" x2="1165.8" y2="604.8" stroke="#333" stroke-width="1.6"/>
<line x1="1158.5" y1="565.31" x2="1165.8" y2="565.31" stroke="#333" stroke-width="1.6"/>
<line x1="1158.5" y1="542.21" x2="1165.8" y2="542.21" stroke="#333" stroke-width="1.6"/>
<line x1="1158.5" y1="525.81" x2="1165.8" y2="525.81" stroke="#333" stroke-width="1.6"/>
<line x1="1153.9" y1="513.1" x2="1165.8" y2="513.1" stroke="#333" stroke-width="1.6"/>
<line x1="1158.5" y1="473.6" x2="1165.8" y2="473.6" stroke="#333" stroke-width="1.6"/>
<text x="1146" y="520.4" font-size="20" text-anchor="end" fill="#333">100</text>
<text x="1146" y="651.6" font-size="20" text-anchor="end" fill="#333">10</text>
<text x="1146" y="782.8" font-size="20" text-anchor="end" fill="#333">1</text>
<line x1="1240.7" y1="817.1" x2="1240.7" y2="823.8" stroke="#333" stroke-width="1.6"/>
<line x1="1486.5" y1="817.1" x2="1486.5" y2="823.8" stroke="#333" stroke-width="1.6"/>
<line x1="1732.3" y1="817.1" x2="1732.3" y2="823.8" stroke="#333" stroke-width="1.6"/>
<text x="1240.7" y="847.9" font-size="20" text-anchor="middle" fill="#333">0.1</text>
<text x="1486.5" y="847.9" font-size="20" text-anchor="middle" fill="#333">1</text>
<text x="1732.3" y="847.9" font-size="20" text-anchor="middle" fill="#333">10</text>
<line x1="1252.2" y1="448.3" x2="1401.9" y2="508.5" stroke="#4aaaa2" stroke-width="1.1"/>
<line x1="1401.9" y1="519.5" x2="1473.1" y2="587.8" stroke="#3a3ae6" stroke-width="1.1"/>
<line x1="1473.1" y1="602.9" x2="1597.2" y2="733.1" stroke="#dc4868" stroke-width="1.1"/>
<circle cx="1252.2" cy="448.3" r="4.2" fill="#000"/>
<circle cx="1314.4" cy="462.5" r="4.2" fill="#000"/>
<circle cx="1350.2" cy="489" r="4.2" fill="#000"/>
<circle cx="1380.7" cy="505.3" r="4.2" fill="#000"/>
<circle cx="1401.9" cy="519.5" r="4.2" fill="#000"/>
<circle cx="1421" cy="539" r="4.2" fill="#000"/>
<circle cx="1434.9" cy="550" r="4.2" fill="#000"/>
<circle cx="1450.7" cy="563.4" r="4.2" fill="#000"/>
<circle cx="1461.7" cy="575.6" r="4.2" fill="#000"/>
<circle cx="1472.3" cy="596.8" r="4.2" fill="#000"/>
<circle cx="1482" cy="619.2" r="4.2" fill="#000"/>
<circle cx="1492.2" cy="624.1" r="4.2" fill="#000"/>
<circle cx="1500.3" cy="628.1" r="4.2" fill="#000"/>
<circle cx="1507.3" cy="642.8" r="4.2" fill="#000"/>
<circle cx="1514.6" cy="655" r="4.2" fill="#000"/>
<circle cx="1520.7" cy="655" r="4.2" fill="#000"/>
<circle cx="1530" cy="664" r="4.2" fill="#000"/>
<circle cx="1536.2" cy="664" r="4.2" fill="#000"/>
<circle cx="1542.3" cy="664" r="4.2" fill="#000"/>
<circle cx="1550.4" cy="672.1" r="4.2" fill="#000"/>
<circle cx="1554.5" cy="695.7" r="4.2" fill="#000"/>
<circle cx="1560.6" cy="695.7" r="4.2" fill="#000"/>
<circle cx="1564.6" cy="695.7" r="4.2" fill="#000"/>
<circle cx="1568.7" cy="711.9" r="4.2" fill="#000"/>
<circle cx="1574.8" cy="711.9" r="4.2" fill="#000"/>
<circle cx="1580.9" cy="711.9" r="4.2" fill="#000"/>
<circle cx="1585" cy="735.9" r="4.2" fill="#000"/>
<circle cx="1591.1" cy="735.9" r="4.2" fill="#000"/>
<circle cx="1597.2" cy="735.9" r="4.2" fill="#000"/>
<circle cx="1600" cy="775" r="4.2" fill="#000"/>
<text x="1235.9" y="504.4" font-size="21.5" fill="#222" textLength="83.4" lengthAdjust="spacingAndGlyphs">D=0.762</text>
<text x="1342.1" y="579.7" font-size="21.5" fill="#222" textLength="83.4" lengthAdjust="spacingAndGlyphs">D=1.796</text>
<text x="1431.2" y="700.5" font-size="21.5" fill="#222" textLength="83.4" lengthAdjust="spacingAndGlyphs">D=1.977</text>
<rect x="1166.8" y="440.3" width="41.7" height="40" fill="#fff" stroke="#ccc" stroke-width="1.2"/>
<text x="1187.5" y="470" font-size="30" text-anchor="middle" fill="#111" font-family="'DejaVu Sans', 'Liberation Sans', sans-serif">c</text>
<text x="1176.1" y="808.4" font-size="41" fill="#2ea68c" font-family="'DejaVu Sans', 'Liberation Sans', sans-serif" textLength="247.4" lengthAdjust="spacingAndGlyphs">Thin section</text>
<text x="1490.4" y="883.6" font-size="34" text-anchor="middle" fill="#111" textLength="249" lengthAdjust="spacingAndGlyphs">Clast size (mm)</text>
</g>
<g font-family="'DejaVu Sans', 'Liberation Sans', sans-serif">
<rect x="25.4" y="900" width="1724.3" height="514.5" fill="none" stroke="#222" stroke-width="2.2"/>
<line x1="476.5" y1="901" x2="476.5" y2="1413.5" stroke="#1f77b4" stroke-width="3.8"/>
<line x1="920.2" y1="901" x2="920.2" y2="1413.5" stroke="#1f77b4" stroke-width="3.8"/>
<line x1="655.2" y1="1414.5" x2="655.2" y2="901" stroke="#1f77b4" stroke-width="3.8" stroke-dasharray="17 7.7"/>
<line x1="900.3" y1="1414.5" x2="900.3" y2="901" stroke="#1f77b4" stroke-width="3.8" stroke-dasharray="17 7.7"/>
<line x1="1073.2" y1="901" x2="1073.2" y2="1413.5" stroke="#ffa500" stroke-width="3.8"/>
<circle cx="208.6" cy="1020.5" r="13.8" fill="#dea84e"/>
<circle cx="370.7" cy="1020.5" r="13.8" fill="#dea84e"/>
<circle cx="599.7" cy="1020.5" r="13.8" fill="#dea84e"/>
<circle cx="919.4" cy="1020.5" r="13.8" fill="#dea84e"/>
<circle cx="967.2" cy="1020.5" r="13.8" fill="#dea84e"/>
<circle cx="1344" cy="1020.5" r="13.8" fill="#dea84e"/>
<circle cx="1720.9" cy="1020.5" r="13.8" fill="#dea84e"/>
<circle cx="552.7" cy="1313" r="13.8" fill="#3aaa9c"/>
<circle cx="625.1" cy="1313" r="13.8" fill="#3aaa9c"/>
<circle cx="673" cy="1313" r="13.8" fill="#3aaa9c"/>
<circle cx="945.6" cy="1313" r="13.8" fill="#3aaa9c"/>
<text transform="translate(486.4,1028) rotate(90)" font-size="25" fill="#111" font-family="'Liberation Sans', Arial, sans-serif" textLength="251" lengthAdjust="spacingAndGlyphs">Natural deformed rock</text>
<text transform="translate(886.9,1226.5) rotate(-90)" font-size="25" fill="#111" font-family="'Liberation Sans', Arial, sans-serif" textLength="142.5" lengthAdjust="spacingAndGlyphs">Exp. gouges</text>
<text transform="translate(1078.5,1134.5) rotate(90)" font-size="33" fill="#111" font-family="'Liberation Sans', Arial, sans-serif">shear comminution</text>
<text transform="translate(1120.3,1193) rotate(90)" font-size="33" fill="#111" font-family="'Liberation Sans', Arial, sans-serif">Upper limit for</text>
<rect x="26.4" y="901" width="61.2" height="57.3" fill="#fff" stroke="#bbb" stroke-width="1.2"/>
<text x="54.6" y="943.5" font-size="42" text-anchor="middle" fill="#111">d</text>
<rect x="1442.7" y="1305.6" width="299.3" height="101.6" rx="4" fill="#fff" fill-opacity="0.8" stroke="#ccc" stroke-width="1.3"/>
<circle cx="1485.8" cy="1334" r="10.6" fill="#dea84e"/>
<circle cx="1485.8" cy="1379.7" r="10.6" fill="#3aaa9c"/>
<text x="1542" y="1342.9" font-size="31" fill="#111">Outcrop</text>
<text x="1541.5" y="1387.5" font-size="31" fill="#111">Thin section</text>
<line x1="25.4" y1="1414.5" x2="25.4" y2="1426.5" stroke="#222" stroke-width="2"/>
<text x="25.4" y="1464.3" font-size="35" text-anchor="middle" fill="#111">1.0</text>
<line x1="356.5" y1="1414.5" x2="356.5" y2="1426.5" stroke="#222" stroke-width="2"/>
<text x="356.5" y="1464.3" font-size="35" text-anchor="middle" fill="#111">1.5</text>
<line x1="687.6" y1="1414.5" x2="687.6" y2="1426.5" stroke="#222" stroke-width="2"/>
<text x="687.6" y="1464.3" font-size="35" text-anchor="middle" fill="#111">2.0</text>
<line x1="1018.7" y1="1414.5" x2="1018.7" y2="1426.5" stroke="#222" stroke-width="2"/>
<text x="1018.7" y="1464.3" font-size="35" text-anchor="middle" fill="#111">2.5</text>
<line x1="1349.8" y1="1414.5" x2="1349.8" y2="1426.5" stroke="#222" stroke-width="2"/>
<text x="1349.8" y="1464.3" font-size="35" text-anchor="middle" fill="#111">3.0</text>
<line x1="1680.9" y1="1414.5" x2="1680.9" y2="1426.5" stroke="#222" stroke-width="2"/>
<text x="1680.9" y="1464.3" font-size="35" text-anchor="middle" fill="#111">3.5</text>
<text x="650.2" y="1515.5" font-size="39" fill="#111">Fractal Dimension (Dm<tspan font-size="27" dy="7" font-style="italic">s</tspan><tspan dy="-7">)</tspan></text>
</g>
</svg>
</body></html>
